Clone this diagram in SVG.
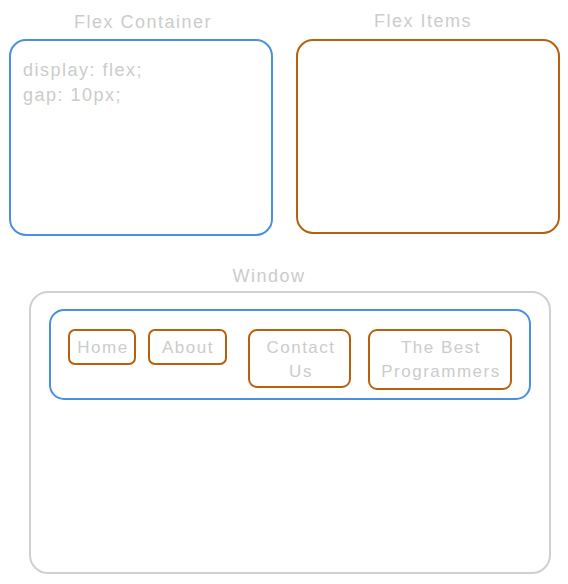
<svg xmlns="http://www.w3.org/2000/svg" width="568" height="584" viewBox="0 0 568 584">
<style>
text{font-family:"Liberation Sans","DejaVu Sans",sans-serif;fill:#cccccc;letter-spacing:1.5px;}
.lbl{font-size:18px;text-anchor:middle;}
.code{font-size:18px;}
.nav{font-size:17px;text-anchor:middle;}
.blue{fill:none;stroke:#4a90e2;stroke-width:2;}
.orange{fill:none;stroke:#b8600c;stroke-width:2;}
.gray{fill:none;stroke:#d0d0d0;stroke-width:2;}
</style>
<rect width="568" height="584" fill="#ffffff"/>
<g id="flex-container">
<text class="lbl" x="143" y="28">Flex Container</text>
<rect class="blue" x="10" y="40" width="262" height="195" rx="16"/>
<text class="code" x="23" y="76">display: flex;</text>
<text class="code" x="23" y="101">gap: 10px;</text>
</g>
<g id="flex-items">
<text class="lbl" x="423" y="27">Flex Items</text>
<rect class="orange" x="297" y="40" width="262" height="193" rx="16"/>
</g>
<g id="window">
<text class="lbl" x="269" y="282">Window</text>
<rect class="gray" x="30" y="292" width="520" height="281" rx="18"/>
</g>
<g id="nav">
<rect class="blue" x="50" y="310" width="480" height="89" rx="14"/>
</g>
<g id="home">
<rect class="orange" x="69" y="330" width="66" height="34" rx="6"/>
<text class="nav" x="103" y="353">Home</text>
</g>
<g id="about">
<rect class="orange" x="149" y="330" width="77" height="34" rx="6"/>
<text class="nav" x="188" y="353">About</text>
</g>
<g id="contact">
<rect class="orange" x="249" y="330" width="101" height="57" rx="8"/>
<text class="nav" x="301" y="353">Contact</text>
<text class="nav" x="301" y="377">Us</text>
</g>
<g id="best">
<rect class="orange" x="369" y="330" width="142" height="59" rx="8"/>
<text class="nav" x="441" y="353">The Best</text>
<text class="nav" x="441" y="377">Programmers</text>
</g>
<g id="connectors"></g>
</svg>
